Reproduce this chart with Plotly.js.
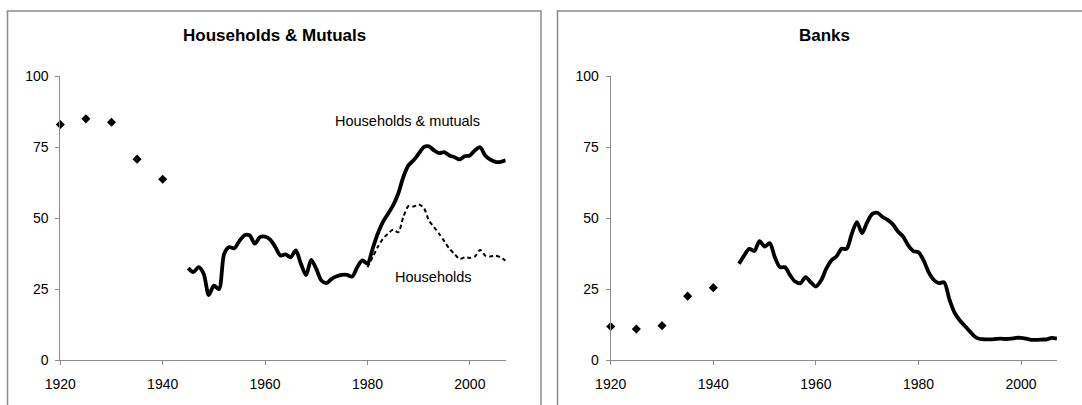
<!DOCTYPE html>
<html>
<head>
<meta charset="utf-8">
<script src="https://cdn.plot.ly/plotly-3.0.1.min.js"></script>
<style>
html,body{margin:0;padding:0;background:#fff;}
#chart{width:1082px;height:405px;}
</style>
</head>
<body>
<div id="chart"></div>
<script>
// ---- data ----
var earlyYears = [1920, 1925, 1930, 1935, 1940];
var hhMutualsEarly = [83, 85, 83.8, 70.8, 63.7];
var banksEarly = [11.8, 10.9, 12.1, 22.5, 25.5];

var hhMutualsYears = [1945,1946,1947,1948,1949,1950,1951,1952,1953,1954,1955,1956,1957,1958,1959,1960,1961,1962,1963,1964,1965,1966,1967,1968,1969,1970,1971,1972,1973,1974,1975,1976,1977,1978,1979,1980,1981,1982,1983,1984,1985,1986,1987,1988,1989,1990,1991,1992,1993,1994,1995,1996,1997,1998,1999,2000,2001,2002,2003,2004,2005,2006,2007];
var hhMutuals = [32.4,31,32.7,30.4,22.9,26.2,25,37.4,39.8,39.4,42,44,43.9,41,43.3,43.5,42.4,39.8,36.8,37.2,36.2,38.6,33.9,29.9,35.3,32.1,28,27.1,28.6,29.5,30,30,29.4,32.7,35.1,34,39.2,44.5,48.6,51.5,54.5,58.6,64.5,68.6,70.4,72.7,75,75.3,73.9,72.9,73.3,72.1,71.5,70.7,71.8,72.1,73.9,75,72.1,70.6,69.8,69.8,70.4];

var householdsYears = [1980,1981,1982,1983,1984,1985,1986,1987,1988,1989,1990,1991,1992,1993,1994,1995,1996,1997,1998,1999,2000,2001,2002,2003,2004,2005,2006,2007];
var households = [32.7,36.2,39.8,42.7,44.5,45.9,45,50.4,54.2,54.1,54.8,53.6,49.2,46.8,44.5,41.9,39.2,37.4,35.6,36.2,36,36.5,38.8,36.8,36.5,36.8,36.2,35];

var banksYears = [1945,1946,1947,1948,1949,1950,1951,1952,1953,1954,1955,1956,1957,1958,1959,1960,1961,1962,1963,1964,1965,1966,1967,1968,1969,1970,1971,1972,1973,1974,1975,1976,1977,1978,1979,1980,1981,1982,1983,1984,1985,1986,1987,1988,1989,1990,1991,1992,1993,1994,1995,1996,1997,1998,1999,2000,2001,2002,2003,2004,2005,2006,2007];
var banks = [33.9,36.8,39.2,38.4,41.9,40,41.2,36.2,32.7,32.7,29.8,27.6,27.1,29.2,27.4,25.9,28,32.1,35.1,36.5,39.2,39.2,44.5,48.6,44.7,48.6,51.5,51.9,50.4,49.4,47.8,45.3,43.5,40.4,38.4,38,35.1,30.9,28.2,27.1,27.4,21.5,16.8,14.1,12.1,10.1,8.2,7.4,7.3,7.3,7.4,7.5,7.4,7.5,7.8,7.8,7.5,7.1,7.1,7.2,7.3,7.8,7.5];

var xTicks = [1920, 1940, 1960, 1980, 2000];
var yTicks = [0, 25, 50, 75, 100];
var panelTitles = ['Households & Mutuals', 'Banks'];
var seriesLabels = ['Households & mutuals', 'Households'];

// ---- chart ----
var W = 1082, H = 405;
function px(x){ return x / W; }
function py(y){ return (H - y) / H; }

var solid = {color:'#000', width:3.8, shape:'spline', smoothing:0.8};
var diamond = {symbol:'diamond', size:7, color:'#000'};

var traces = [
  {x:earlyYears, y:hhMutualsEarly, xaxis:'x', yaxis:'y', mode:'markers', marker:diamond, cliponaxis:false, hoverinfo:'skip'},
  {x:hhMutualsYears, y:hhMutuals, xaxis:'x', yaxis:'y', mode:'lines', line:solid, cliponaxis:false, hoverinfo:'skip'},
  {x:householdsYears, y:households, xaxis:'x', yaxis:'y', mode:'lines', line:{color:'#000', width:2, dash:'4px,3px', shape:'spline', smoothing:0.8}, cliponaxis:false, hoverinfo:'skip'},
  {x:earlyYears, y:banksEarly, xaxis:'x2', yaxis:'y2', mode:'markers', marker:diamond, cliponaxis:false, hoverinfo:'skip'},
  {x:banksYears, y:banks, xaxis:'x2', yaxis:'y2', mode:'lines', line:solid, cliponaxis:false, hoverinfo:'skip'}
];

var font = {family:'Arial, "Liberation Sans", sans-serif', size:14, color:'#000'};

function xAxis(d0, d1, anchor){
  return {domain:[d0, d1], anchor:anchor, range:[1920, 2007], tickvals:xTicks, ticktext:xTicks.map(String),
    showline:true, linecolor:'#8c8c8c', linewidth:1, ticks:'outside', ticklen:4, tickcolor:'#8c8c8c',
    showgrid:false, zeroline:false, tickfont:font, ticklabelstandoff:7, fixedrange:true};
}
function yAxis(anchor){
  return {domain:[py(360), py(76.3)], anchor:anchor, range:[0, 100], tickvals:yTicks, ticktext:yTicks.map(String),
    showline:true, linecolor:'#8c8c8c', linewidth:1, ticks:'outside', ticklen:4, tickcolor:'#8c8c8c',
    showgrid:false, zeroline:false, tickfont:font, ticklabelstandoff:4, fixedrange:true};
}

var layout = {
  width:W, height:H,
  margin:{l:0, r:0, t:0, b:0},
  paper_bgcolor:'#fff', plot_bgcolor:'rgba(0,0,0,0)',
  showlegend:false,
  font:font,
  xaxis:xAxis(px(60.3), px(505.7), 'y'),
  yaxis:yAxis('x'),
  xaxis2:xAxis(px(610.7), px(1057), 'y2'),
  yaxis2:yAxis('x2'),
  shapes:[
    {type:'rect', xref:'paper', yref:'paper', x0:px(7.5), x1:px(541), y0:-0.2, y1:py(11), line:{color:'#8c8c8c', width:1.5}, layer:'below'},
    {type:'rect', xref:'paper', yref:'paper', x0:px(557.5), x1:px(1092), y0:-0.2, y1:py(11), line:{color:'#8c8c8c', width:1.5}, layer:'below'}
  ],
  annotations:[
    {text:'<b>'+panelTitles[0]+'</b>', xref:'paper', yref:'paper', x:px(274), y:py(35), xanchor:'center', yanchor:'middle', showarrow:false, font:{family:font.family, size:17, color:'#000'}},
    {text:'<b>'+panelTitles[1]+'</b>', xref:'paper', yref:'paper', x:px(824), y:py(35), xanchor:'center', yanchor:'middle', showarrow:false, font:{family:font.family, size:17, color:'#000'}},
    {text:seriesLabels[0], xref:'paper', yref:'paper', x:px(407.4), y:py(121), xanchor:'center', yanchor:'middle', showarrow:false, font:{family:font.family, size:14.5, color:'#000'}},
    {text:seriesLabels[1], xref:'paper', yref:'paper', x:px(433.7), y:py(277.3), xanchor:'center', yanchor:'middle', showarrow:false, font:{family:font.family, size:14.5, color:'#000'}}
  ]
};

Plotly.newPlot('chart', traces, layout, {displayModeBar:false, staticPlot:true});
</script>
</body>
</html>
